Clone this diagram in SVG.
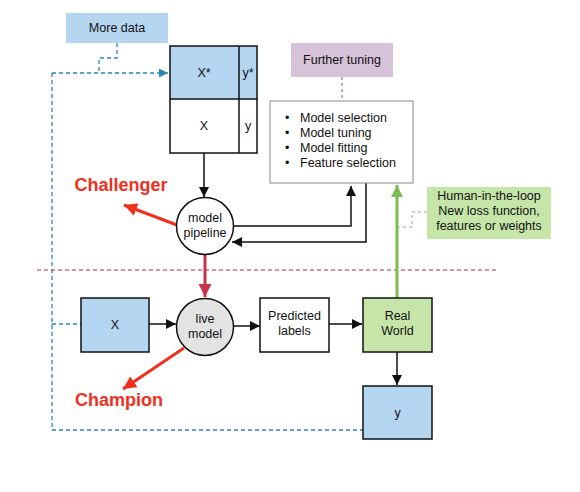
<svg xmlns="http://www.w3.org/2000/svg" width="580" height="492" viewBox="0 0 580 492">
<defs>
<style>
text{font-family:"Liberation Sans",Arial,sans-serif;font-size:12.5px;fill:#111;text-anchor:middle}
.box{stroke:#111;stroke-width:1.5}
.blue{fill:#b5d6f0}
.green{fill:#c6e6a9}
.bl{stroke:#111;stroke-width:1.5;fill:none}
.red{font-size:18px;font-weight:bold;fill:#f0301c}
.dash{fill:none;stroke:#2a86b8;stroke-width:1.3;stroke-dasharray:4,3}
.ls{text-anchor:start}
</style>
<marker id="ahk" viewBox="0 0 10 10" refX="10" refY="5" markerWidth="10" markerHeight="10" markerUnits="userSpaceOnUse" orient="auto"><path d="M0,0L10,5L0,10z" fill="#111"/></marker>
<marker id="ahb" viewBox="0 0 10 10" refX="10" refY="5" markerWidth="9" markerHeight="9" markerUnits="userSpaceOnUse" orient="auto"><path d="M0,0L10,5L0,10z" fill="#2a86b8"/></marker>
<marker id="ahr" viewBox="0 0 10 10" refX="10" refY="5" markerWidth="13" markerHeight="13" markerUnits="userSpaceOnUse" orient="auto"><path d="M0,0L10,5L0,10z" fill="#f0301c"/></marker>
<marker id="ahc" viewBox="0 0 10 10" refX="10" refY="5" markerWidth="13" markerHeight="13" markerUnits="userSpaceOnUse" orient="auto"><path d="M0,0L10,5L0,10z" fill="#c8324a"/></marker>
<marker id="ahg" viewBox="0 0 10 10" refX="10" refY="5" markerWidth="12" markerHeight="12" markerUnits="userSpaceOnUse" orient="auto"><path d="M0,0L10,5L0,10z" fill="#7cbd4f"/></marker>
</defs>
<rect width="580" height="492" fill="#fff"/>
<g id="connectors">
<path class="dash" d="M117,43V58H99V73"/>
<path class="dash" d="M52,73H168" marker-end="url(#ahb)"/>
<path class="dash" d="M52,73V430H363"/>
<path class="dash" d="M52,324H81"/>
<line x1="37" y1="270" x2="499" y2="270" stroke="#b52a3a" stroke-width="1" stroke-dasharray="4,3"/>
<path d="M342,77V101" stroke="#a070a8" stroke-width="1.2" stroke-dasharray="3,3" fill="none"/>
<path d="M427,212H412V227H399" stroke="#9aa890" stroke-width="1" stroke-dasharray="3,3" fill="none"/>
<path class="bl" d="M204,153V197" marker-end="url(#ahk)"/>
<path class="bl" d="M233,226H351V186" marker-end="url(#ahk)"/>
<path class="bl" d="M366,183V242H232" marker-end="url(#ahk)"/>
<path d="M205,255V297" stroke="#c8324a" stroke-width="3" fill="none" marker-end="url(#ahc)"/>
<path d="M177,225L124,205" stroke="#f0301c" stroke-width="3" fill="none" marker-end="url(#ahr)"/>
<path d="M184,348L123,389" stroke="#f0301c" stroke-width="3" fill="none" marker-end="url(#ahr)"/>
<path class="bl" d="M149,324H176" marker-end="url(#ahk)"/>
<path class="bl" d="M234,326H260" marker-end="url(#ahk)"/>
<path class="bl" d="M329,324H362" marker-end="url(#ahk)"/>
<path class="bl" d="M397,352V385" marker-end="url(#ahk)"/>
<path d="M397,298V185" stroke="#7cbd4f" stroke-width="3" fill="none" marker-end="url(#ahg)"/>
</g>
<g id="more-data"><rect x="66" y="13" width="102" height="30" class="blue"/><text x="117" y="32">More data</text></g>
<g id="data-table">
<rect x="170" y="46" width="87" height="53" class="blue"/>
<rect x="170" y="46" width="87" height="107" fill="none" class="box"/>
<line x1="170" y1="99" x2="257" y2="99" class="box"/>
<line x1="239" y1="46" x2="239" y2="153" class="box"/>
<text x="204" y="77">X*</text><text x="248" y="77">y*</text>
<text x="204" y="130">X</text><text x="248" y="130">y</text>
</g>
<g id="further-tuning"><rect x="291" y="43" width="102" height="34" fill="#d6c2d9"/><text x="342" y="64">Further tuning</text></g>
<g id="tuning-list"><rect x="270" y="101" width="143" height="82" fill="#fff" stroke="#888" stroke-width="1"/>
<text x="285" y="122" class="ls">•</text><text x="300" y="122" class="ls">Model selection</text>
<text x="285" y="137" class="ls">•</text><text x="300" y="137" class="ls">Model tuning</text>
<text x="285" y="152" class="ls">•</text><text x="300" y="152" class="ls">Model fitting</text>
<text x="285" y="167" class="ls">•</text><text x="300" y="167" class="ls">Feature selection</text>
</g>
<g id="human-loop"><rect x="427" y="187" width="124" height="52" class="green"/>
<text x="489" y="200">Human-in-the-loop</text><text x="489" y="215">New loss function,</text><text x="489" y="230">features or weights</text></g>
<g id="model-pipeline"><circle cx="205" cy="226" r="28.5" fill="#fff" class="box"/><text x="205" y="222">model</text><text x="205" y="237">pipeline</text></g>
<g id="challenger"><text x="121" y="191" class="red">Challenger</text></g>
<g id="x-box"><rect x="81" y="298" width="68" height="54" class="blue box"/><text x="115" y="329">X</text></g>
<g id="live-model"><circle cx="205" cy="327" r="28.5" fill="#e3e3e3" class="box"/><text x="205" y="323">live</text><text x="205" y="338">model</text></g>
<g id="predicted-labels"><rect x="260" y="298" width="69" height="54" fill="#fff" class="box"/><text x="294.5" y="320">Predicted</text><text x="294.5" y="335">labels</text></g>
<g id="real-world"><rect x="363" y="298" width="69" height="54" class="green box"/><text x="397.5" y="320">Real</text><text x="397.5" y="335">World</text></g>
<g id="y-box"><rect x="363" y="386" width="69" height="53" class="blue box"/><text x="397.5" y="417">y</text></g>
<g id="champion"><text x="119" y="406" class="red">Champion</text></g>
</svg>
